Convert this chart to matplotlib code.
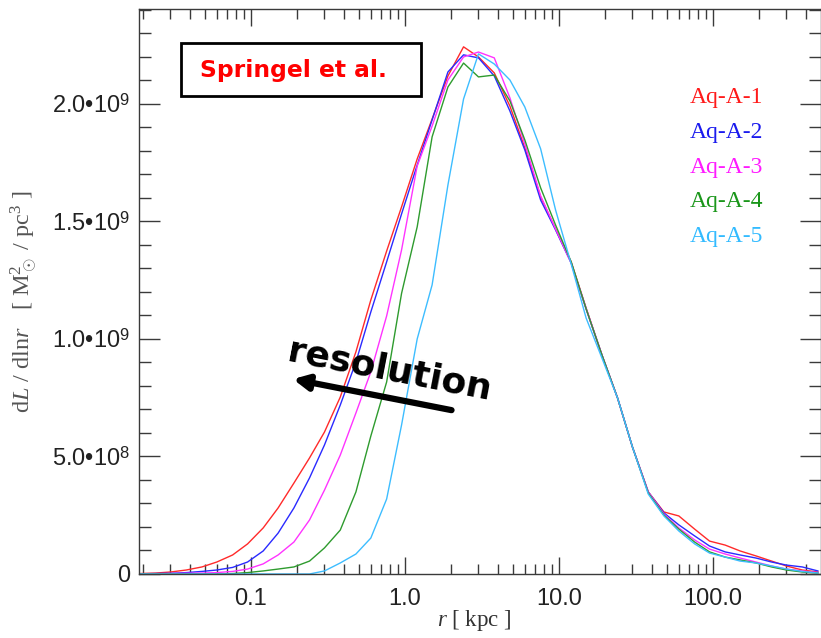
import numpy as np
import matplotlib
matplotlib.use('Agg')
import matplotlib.pyplot as plt
from matplotlib.patches import Rectangle
from matplotlib.ticker import FixedLocator, LogLocator, NullFormatter, MultipleLocator

plt.rcParams['mathtext.fontset'] = 'custom'
plt.rcParams['mathtext.rm'] = 'Liberation Serif'
plt.rcParams['mathtext.it'] = 'Liberation Serif:italic'
plt.rcParams['mathtext.sf'] = 'Liberation Sans'

# radius bins [kpc]
r = [0.019, 0.024, 0.030, 0.038, 0.048, 0.060, 0.076, 0.095, 0.12, 0.15,
     0.19, 0.24, 0.30, 0.38, 0.48, 0.60, 0.76, 0.95, 1.2, 1.5,
     1.9, 2.4, 3.0, 3.8, 4.8, 6.0, 7.6, 9.5, 12, 15,
     19, 24, 30, 38, 48, 60, 76, 95, 120, 150,
     190, 240, 300, 380, 480]

# dL/dlnr in units of 1e9
aq_a1 = [0.002, 0.004, 0.0085, 0.017, 0.030, 0.051, 0.081, 0.128, 0.196, 0.281,
         0.387, 0.494, 0.604, 0.753, 0.945, 1.166, 1.374, 1.562, 1.766, 1.936,
         2.119, 2.243, 2.200, 2.132, 1.991, 1.813, 1.604, 1.468, 1.328, 1.132,
         0.932, 0.749, 0.540, 0.349, 0.264, 0.247, 0.191, 0.140, 0.123, 0.098,
         0.077, 0.055, 0.034, 0.017, 0.0085]
aq_a2 = [0.001, 0.002, 0.003, 0.006, 0.011, 0.017, 0.028, 0.051, 0.098, 0.174,
         0.281, 0.409, 0.549, 0.719, 0.902, 1.115, 1.328, 1.532, 1.740, 1.932,
         2.136, 2.209, 2.196, 2.119, 1.970, 1.804, 1.591, 1.464, 1.323, 1.128,
         0.932, 0.749, 0.540, 0.349, 0.260, 0.209, 0.162, 0.119, 0.094, 0.081,
         0.068, 0.051, 0.038, 0.030, 0.013]
aq_a3 = [0.0004, 0.001, 0.002, 0.003, 0.004, 0.006, 0.011, 0.021, 0.043, 0.081,
         0.136, 0.230, 0.357, 0.506, 0.685, 0.860, 1.098, 1.379, 1.736, 1.906,
         2.102, 2.200, 2.221, 2.196, 2.026, 1.830, 1.609, 1.468, 1.323, 1.128,
         0.932, 0.749, 0.540, 0.349, 0.255, 0.196, 0.145, 0.106, 0.085, 0.068,
         0.051, 0.034, 0.021, 0.013, 0.006]
aq_a4 = [0.0, 0.0, 0.0, 0.0, 0.0, 0.0, 0.002, 0.006, 0.013, 0.021,
         0.030, 0.055, 0.111, 0.187, 0.349, 0.587, 0.817, 1.194, 1.477, 1.860,
         2.072, 2.174, 2.115, 2.123, 2.013, 1.847, 1.643, 1.485, 1.328, 1.128,
         0.932, 0.749, 0.540, 0.345, 0.251, 0.191, 0.136, 0.094, 0.072, 0.060,
         0.047, 0.030, 0.017, 0.0085, 0.004]
aq_a5 = [0.0, 0.0, 0.0, 0.0, 0.0, 0.0, 0.0, 0.0, 0.0, 0.0,
         0.0, 0.0, 0.013, 0.047, 0.085, 0.153, 0.319, 0.634, 1.000, 1.230,
         1.655, 2.021, 2.213, 2.170, 2.102, 1.987, 1.809, 1.549, 1.319, 1.089,
         0.919, 0.749, 0.540, 0.340, 0.247, 0.183, 0.128, 0.089, 0.072, 0.055,
         0.047, 0.034, 0.021, 0.011, 0.004]

names = ['Aq-A-1', 'Aq-A-2', 'Aq-A-3', 'Aq-A-4', 'Aq-A-5']
series = [aq_a1, aq_a2, aq_a3, aq_a4, aq_a5]
line_colors = ['#ff2a2a', '#2a2aff', '#ff33ff', '#2e9b2e', '#3dbdff']
text_colors = ['#ff1a1a', '#1a1aee', '#ff1aff', '#1a961a', '#33bbff']

yticks = [0, 0.5e9, 1.0e9, 1.5e9, 2.0e9]
ytick_labels = ['0', '5.0•10$^{\\mathsf{8}}$', '1.0•10$^{\\mathsf{9}}$',
                '1.5•10$^{\\mathsf{9}}$', '2.0•10$^{\\mathsf{9}}$']
xticks = [0.1, 1.0, 10.0, 100.0]
xtick_labels = ['0.1', '1.0', '10.0', '100.0']

fig = plt.figure(figsize=(8.21, 6.38), dpi=100)
ax = fig.add_axes([138.5/821, 1 - 574/638, 682/821, 565/638])

for vals, c in zip(series, line_colors):
    ax.plot(r, np.array(vals) * 1e9, color=c, lw=1.0)

ax.set_xscale('log')
ax.set_xlim(0.0186, 499)
ax.set_ylim(0, 2.404e9)

ax.xaxis.set_major_locator(FixedLocator(xticks))
ax.xaxis.set_minor_locator(LogLocator(base=10, subs=np.arange(2, 10)))
ax.xaxis.set_minor_formatter(NullFormatter())
ax.set_xticklabels(xtick_labels)
ax.set_yticks(yticks)
ax.set_yticklabels(ytick_labels)
ax.yaxis.set_minor_locator(MultipleLocator(1e8))

gray = '#3a3a3a'
for s in ax.spines.values():
    s.set_color(gray)
    s.set_linewidth(1.0)
ax.tick_params(which='both', direction='in', top=True, right=True, color=gray,
               width=1.0, labelsize=17, labelcolor='#222222')
ax.tick_params(axis='x', which='major', length=12, pad=10)
ax.tick_params(axis='x', which='minor', length=7.5)
ax.tick_params(axis='y', which='major', length=15, pad=6)
ax.tick_params(axis='y', which='minor', length=8.5)
for lab in ax.get_xticklabels() + ax.get_yticklabels():
    lab.set_fontfamily('Liberation Sans')

ax.set_xlabel(r'$r$ [ kpc ]', fontsize=16.5, family='Liberation Serif', color='#333333')
ax.xaxis.set_label_coords(0.493, -0.060)
ax.set_ylabel(r'd$L$ / dln$r$   [ M$_\odot^2$ / pc$^3$ ]', fontsize=17.5,
              family='Liberation Serif', color='#555555')
ax.yaxis.set_label_coords(-0.144, 0.482)

# series labels
label_y = [0.8425, 0.781, 0.720, 0.659, 0.598]
for name, c, yy in zip(names, text_colors, label_y):
    ax.text(0.808, yy, name, transform=ax.transAxes, color=c, fontsize=17,
            family='Liberation Serif', va='center', ha='left')

# Springel et al. box
ax.add_patch(Rectangle((0.0618, 0.846), 0.353, 0.0933, transform=ax.transAxes,
                       fill=False, edgecolor='black', lw=2.0, zorder=5))
ax.text(0.090, 0.892, 'Springel et al.', transform=ax.transAxes, color='#ff0000',
        fontsize=16.8, fontweight='bold', family='DejaVu Sans', va='center', ha='left')

# resolution arrow
ax.text(0.3685, 0.361, 'resolution', transform=ax.transAxes, fontsize=26,
        fontweight='bold', family='DejaVu Sans', rotation=-11,
        rotation_mode='anchor', ha='center', va='center', zorder=6)
ax.annotate('', xy=(0.2264, 0.345), xytext=(0.459, 0.290), xycoords='axes fraction',
            arrowprops=dict(arrowstyle='-|>', lw=4.5, color='black',
                            mutation_scale=22, shrinkA=0, shrinkB=0), zorder=6)

fig.savefig('out.png', dpi=100)
